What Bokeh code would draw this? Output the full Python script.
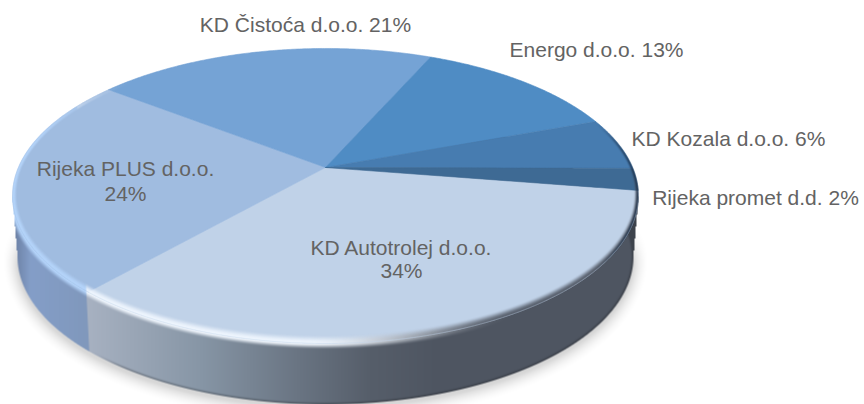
import numpy as np
from bokeh.plotting import figure
from bokeh.models import ColumnDataSource
from bokeh.core.properties import value
from bokeh.embed import file_html
from bokeh.resources import INLINE

names = ["KD Autotrolej d.o.o.", "Rijeka PLUS d.o.o.", "KD Čistoća d.o.o.",
         "Energo d.o.o.", "KD Kozala d.o.o.", "Rijeka promet d.d."]
shares = [34.0, 24.0, 21.1, 12.8, 5.7, 2.4]
colors = ["#C0D2E8", "#A0BCE0", "#75A3D5", "#4F8CC4", "#477CB0", "#3E6A94"]

W, H = 864, 404
APEX_X, APEX_Y = 325.0, 167.0
SX, SY, K = 307.0, 142.0, 0.193
START_DEG = 9.0
CX, CY, RX, RY = 325.0, 195.5, 313.0, 147.5      # top rim
BCX, BCY, BRX, BRY = 325.0, 256.0, 308.0, 148.0  # bottom outline


def project(theta):
    u, v = np.cos(theta), np.sin(theta)
    w = 1 - K * v
    return APEX_X + SX * u / w, APEX_Y + SY * v / w


def sm(a, e0, e1):
    t = np.clip((a - e0) / (e1 - e0), 0, 1)
    return t * t * (3 - 2 * t)


def dist(x, y, cx, cy, rx, ry):
    dx, dy = x - cx, y - cy
    r = np.sqrt((dx / rx) ** 2 + (dy / ry) ** 2) + 1e-6
    g = np.sqrt((dx / rx ** 2) ** 2 + (dy / ry ** 2) ** 2) / r + 1e-9
    return (r - 1) / g


edges = np.radians(START_DEG + 3.6 * np.concatenate([[0], np.cumsum(shares)]))
xs = np.arange(W) + 0.5
ys = np.arange(H) + 0.5
X, Y = np.meshgrid(xs, ys)
d_top = dist(X, Y, CX, CY, RX, RY)
d_bot = dist(X, Y, BCX, BCY, BRX, BRY)

# ---- horizontal shading of the two visible side walls
bx = project(edges[1])[0] - 2 + (Y - 287) * 0.05
wa = np.clip(X - bx + 0.5, 0, 1)[..., None]
auto_side = np.stack([
    np.interp(X, [85, 200, 300, 370, 440], [168, 135, 105, 86, 78]),
    np.interp(X, [85, 200, 300, 370, 440], [178, 150, 116, 94, 85]),
    np.interp(X, [85, 200, 300, 370, 440], [194, 166, 130, 106, 97])], -1)
plus_side = np.stack([
    np.interp(X, [12, 30, 88], [105, 132, 128]),
    np.interp(X, [12, 30, 88], [125, 158, 152]),
    np.interp(X, [12, 30, 88], [160, 200, 188])], -1)
side = plus_side * (1 - wa) + auto_side * wa

hi_strength = (1 - sm(X, 300, 520))[..., None]
hi_col = np.array([182, 214, 252.0]) * (1 - wa) + np.array([242, 248, 255.0]) * wa
rim_col = side * (1 - hi_strength) + hi_col * hi_strength

t = sm(d_top, 0, 6)[..., None]
side_col = rim_col * (1 - t) + side * t
side_col *= (1 - 0.22 * sm(d_bot, -3, -0.5) * sm(X, 90, 130))[..., None]

hull_lim = RX + (BRX - RX) * (Y - CY) / (BCY - CY)
hull = (Y > CY) & (Y < BCY) & (np.abs(X - CX) <= hull_lim)
cov = np.maximum(np.clip(0.5 - d_bot, 0, 1), hull.astype(float))

ds = dist(X, Y - 3, BCX, BCY, BRX, BRY)
a_sh = 0.16 * np.clip(1 - ds / 17, 0, 1) ** 2 * sm(Y, 215, 270)
alpha = cov + (1 - cov) * a_sh
rgb = np.where(alpha[..., None] > 0, side_col * (cov / np.maximum(alpha, 1e-6))[..., None], 0)


def to_rgba(rgb_arr, a_arr):
    out = np.empty((H, W, 4), dtype=np.uint8)
    out[..., :3] = np.clip(rgb_arr, 0, 255).astype(np.uint8)
    out[..., 3] = np.clip(a_arr * 255, 0, 255).astype(np.uint8)
    return out[::-1].copy().view(dtype=np.uint32).reshape(H, W)


under_img = to_rgba(rgb, alpha)

# ---- bevel drawn above the top face
Yr = Y - APEX_Y
v = (Yr / SY) / (1 + K * Yr / SY)
fb = np.where(X < CX, sm(v, -0.72, -0.15), sm(v, -0.05, 0.25))
B = 4 + 5 * np.maximum(v, 0)
a_bev = sm(d_top, -B, -1) * fb * 0.9
dark = 0.75 * sm(X, 590, 632) * sm(d_top, -3.5, -0.5) * sm(v, -0.45, -0.2)
a_all = a_bev + (1 - a_bev) * dark
w_dark = (dark / np.maximum(a_all, 1e-6))[..., None]
bev_rgb = rim_col * (1 - w_dark) + np.array([25, 45, 70.0]) * w_dark
over_img = to_rgba(bev_rgb, a_all * np.clip(0.5 - d_top, 0, 1))

# ---- figure; data units equal page pixels, y measured upward
p = figure(width=W, height=H, x_range=(0, W), y_range=(0, H),
           x_axis_type=None, y_axis_type=None, toolbar_location=None,
           output_backend="svg", min_border=0, outline_line_color=None,
           background_fill_color="white")
p.grid.visible = False

fy = lambda s: H - np.asarray(s, dtype=float)

p.image_rgba(image=[under_img], x=0, y=0, dw=W, dh=H)

px, py = [], []
for i in range(len(shares)):
    n = max(4, int(np.degrees(edges[i + 1] - edges[i])) * 2)
    ex, ey = project(np.linspace(edges[i], edges[i + 1], n))
    px.append(np.concatenate([[APEX_X], ex]))
    py.append(fy(np.concatenate([[APEX_Y], ey])))
p.patches(px, py, fill_color=colors, line_color=colors, line_width=0.6)

p.image_rgba(image=[over_img], x=0, y=0, dw=W, dh=H)

shown = [round(s) for s in shares]
labels = [f"{n} {s}%" for n, s in zip(names, shown)]
outside = ColumnDataSource(dict(
    x=[305, 596, 728, 755],
    y=fy([24, 49, 138, 197]),
    t=labels[2:6]))
p.text("x", "y", text="t", source=outside, text_align="center", text_baseline="middle",
       text_font=value("Liberation Sans"), text_font_size="21px", text_color="#636363")
inside = ColumnDataSource(dict(
    x=[401, 401, 125, 125],
    y=fy([247, 270, 168, 193]),
    t=[names[0], f"{shown[0]}%", names[1], f"{shown[1]}%"]))
p.text("x", "y", text="t", source=inside, text_align="center", text_baseline="middle",
       text_font=value("Liberation Sans"), text_font_size="21px", text_color="#636363")

open("out.html", "w").write(file_html(p, INLINE))
